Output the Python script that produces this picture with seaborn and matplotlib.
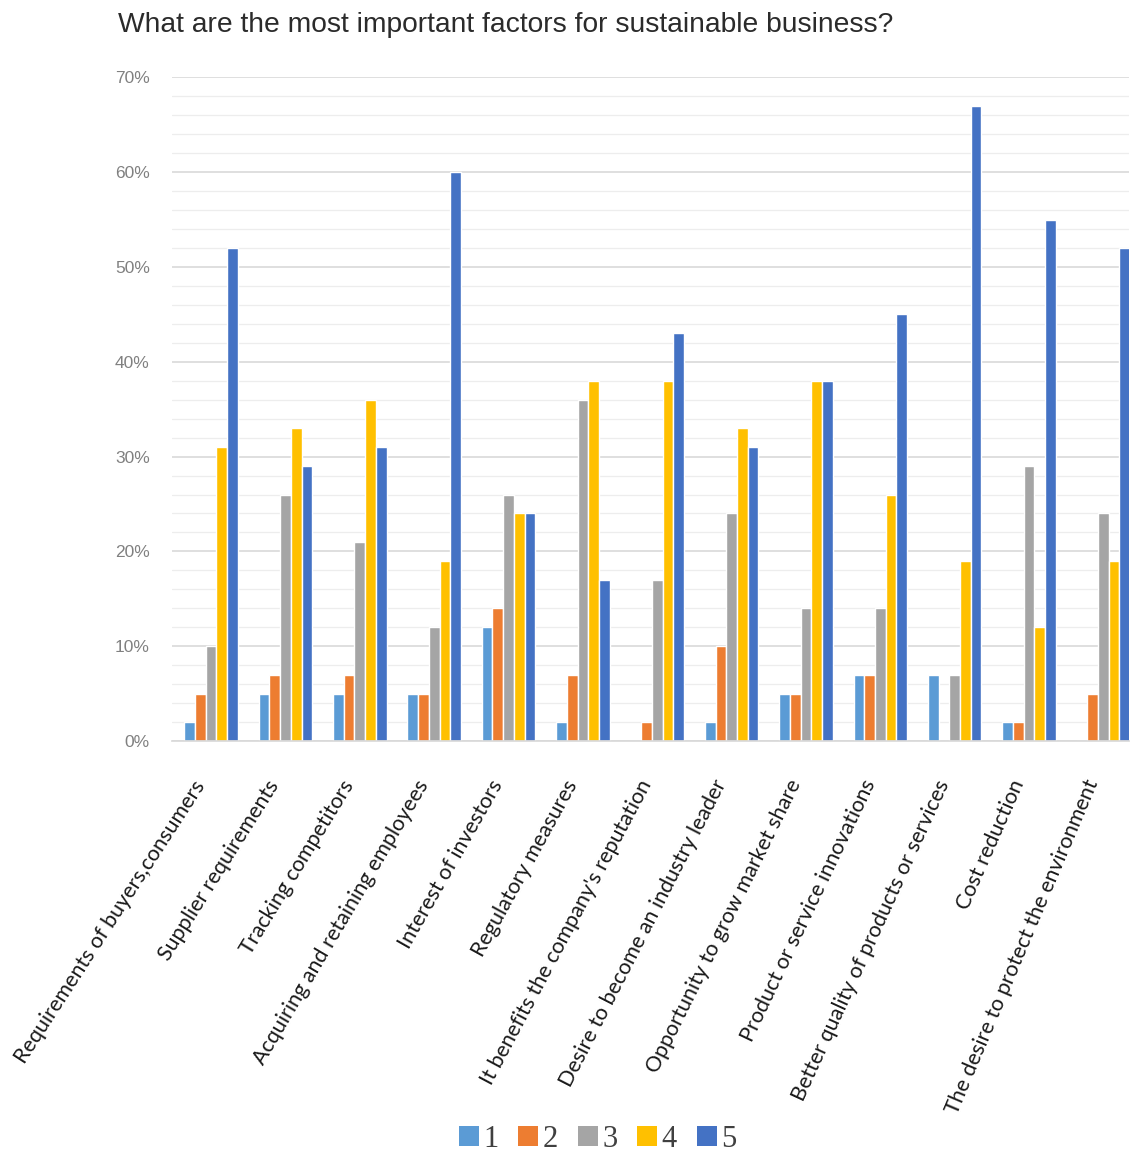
import matplotlib
matplotlib.use("Agg")
import matplotlib.pyplot as plt
import matplotlib.transforms as mtransforms
import seaborn as sns
import pandas as pd
from matplotlib.ticker import MultipleLocator, FuncFormatter
from matplotlib.patches import Patch

categories = [
    "Requirements of buyers,consumers",
    "Supplier requirements",
    "Tracking competitors",
    "Acquiring and retaining employees",
    "Interest of investors",
    "Regulatory measures",
    "It benefits the company's reputation",
    "Desire to become an industry leader",
    "Opportunity to grow market share",
    "Product or service innovations",
    "Better quality of products or services",
    "Cost reduction",
    "The desire to protect the environment",
]
s1 = [2, 5, 5, 5, 12, 2, 0, 2, 5, 7, 7, 2, 0]
s2 = [5, 7, 7, 5, 14, 7, 2, 10, 5, 7, 0, 2, 5]
s3 = [10, 26, 21, 12, 26, 36, 17, 24, 14, 14, 7, 29, 24]
s4 = [31, 33, 36, 19, 24, 38, 38, 33, 38, 26, 19, 12, 19]
s5 = [52, 29, 31, 60, 24, 17, 43, 31, 38, 45, 67, 55, 52]
series_names = ["1", "2", "3", "4", "5"]
colors = ["#5B9BD5", "#ED7D31", "#A5A5A5", "#FFC000", "#4472C4"]

rows = []
for name, vals in zip(series_names, [s1, s2, s3, s4, s5]):
    for c, v in zip(categories, vals):
        rows.append({"factor": c, "rating": name, "value": v})
df = pd.DataFrame(rows)

sns.set_theme(style="white")
plt.rcParams["font.family"] = ["Liberation Sans", "DejaVu Sans"]

fig = plt.figure(figsize=(11.32, 11.56), dpi=100)
ax = fig.add_axes([0.152, 0.359, 0.845, 0.574])

sns.barplot(data=df, x="factor", y="value", hue="rating", palette=colors,
            width=0.72, gap=0, saturation=1, ax=ax, legend=False,
            order=categories, hue_order=series_names)

ax.set_ylim(0, 70)
ax.set_xlim(-0.525, 12.34)
ax.yaxis.set_major_locator(MultipleLocator(10))
ax.yaxis.set_minor_locator(MultipleLocator(2))
ax.yaxis.set_major_formatter(FuncFormatter(lambda v, p: f"{int(v)}%"))
ax.grid(axis="y", which="major", color="#D9D9D9", linewidth=1.2)
ax.grid(axis="y", which="minor", color="#EDEDED", linewidth=0.9)
ax.set_axisbelow(True)
for s in ["top", "right", "left"]:
    ax.spines[s].set_visible(False)
ax.spines["bottom"].set_color("#D9D9D9")
ax.tick_params(axis="y", which="both", length=0, labelsize=12.5, colors="#808080", pad=16)
ax.tick_params(axis="x", length=0, pad=12)
ax.set_xlabel("")
ax.set_ylabel("")
ax.set_xticks(range(len(categories)))
labels = ax.set_xticklabels(categories, ha="right", rotation_mode="anchor",
                            fontsize=15.5, color="#1a1a1a", family=["Lato", "DejaVu Sans"])
offset = mtransforms.ScaledTranslation(-0.19, -0.19, fig.dpi_scale_trans)
n = len(labels)
for i, lab in enumerate(labels):
    lab.set_rotation(57 + 10 * i / (n - 1))
    lab.set_transform(lab.get_transform() + offset)

fig.text(0.104, 0.978, "What are the most important factors for sustainable business?",
         fontsize=20.3, color="#2b2b2b", ha="left", va="center")

handles = [Patch(facecolor=c, edgecolor="none") for c in colors]
leg = fig.legend(handles, series_names, loc="center", bbox_to_anchor=(0.528, 0.0145),
                 ncol=5, frameon=False, handlelength=0.65, handleheight=0.65,
                 handletextpad=0.15, columnspacing=0.65,
                 prop={"family": "Liberation Serif", "size": 22})
for t in leg.get_texts():
    t.set_color("#404040")

fig.savefig("out.png", dpi=100)
